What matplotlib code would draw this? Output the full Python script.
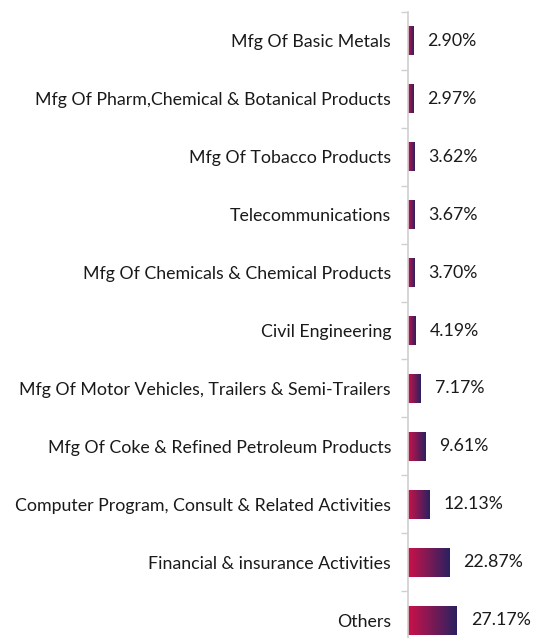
import matplotlib
matplotlib.use('Agg')
import matplotlib.pyplot as plt
from matplotlib.colors import LinearSegmentedColormap
import numpy as np

categories = [
    "Others",
    "Financial & insurance Activities",
    "Computer Program, Consult & Related Activities",
    "Mfg Of Coke & Refined Petroleum Products",
    "Mfg Of Motor Vehicles, Trailers & Semi-Trailers",
    "Civil Engineering",
    "Mfg Of Chemicals & Chemical Products",
    "Telecommunications",
    "Mfg Of Tobacco Products",
    "Mfg Of Pharm,Chemical & Botanical Products",
    "Mfg Of Basic Metals",
]
values = [27.17, 22.87, 12.13, 9.61, 7.17, 4.19, 3.70, 3.67, 3.62, 2.97, 2.90]

plt.rcParams['font.family'] = ['Lato', 'DejaVu Sans']

W, H = 547, 638
fig = plt.figure(figsize=(W / 100, H / 100), dpi=100)
# axis spine at x=408px, top boundary at y=12px, step 58px per category
ax = fig.add_axes([408 / W, (H - 649) / H, (W - 408) / W, 637 / H])

cmap = LinearSegmentedColormap.from_list('grad', ['#cc1149', '#7a1a55', '#2a2160'])
grad = np.linspace(0, 1, 256).reshape(1, -1)

n = len(categories)
ypos = np.arange(n)
bh = 0.5
for y, v in zip(ypos, values):
    ax.imshow(grad, cmap=cmap, aspect='auto', extent=[0, v, y - bh / 2, y + bh / 2],
              interpolation='bilinear', zorder=2)
    ax.text(v + 7.8, y, f"{v:.2f}%", va='center', ha='left', fontsize=12.8, color='#1a1a1a')

ax.set_xlim(0, (W - 408) / 1.8)
ax.set_ylim(-0.5, n - 0.5)
ax.set_yticks(ypos)
ax.set_yticklabels(categories, fontsize=12.8, color='#1a1a1a')
ax.set_yticks(np.arange(n + 1) - 0.5, minor=True)
ax.tick_params(axis='y', which='major', length=0, pad=12.2)
ax.tick_params(axis='y', which='minor', length=5, color='#d0d0d0', width=1)
ax.set_xticks([])
for s in ['top', 'right', 'bottom']:
    ax.spines[s].set_visible(False)
ax.spines['left'].set_color('#d0d0d0')
ax.spines['left'].set_linewidth(1.2)

fig.savefig('out.png', dpi=100)
